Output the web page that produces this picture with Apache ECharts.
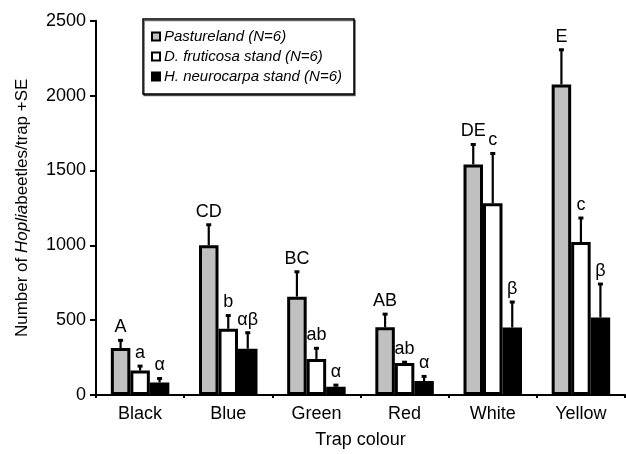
<!DOCTYPE html>
<html>
<head>
<meta charset="utf-8">
<script src="https://cdn.jsdelivr.net/npm/echarts@6/dist/echarts.min.js"></script>
<style>
html,body{margin:0;padding:0;background:#fff;}
#chart{width:626px;height:454px;}
</style>
</head>
<body>
<div id="chart"></div>
<script>
var categories = ['Black', 'Blue', 'Green', 'Red', 'White', 'Yellow'];
var seriesNames = ['Pastureland (N=6)', 'D. fruticosa stand (N=6)', 'H. neurocarpa stand (N=6)'];
var pasture = [314, 1000, 657, 453, 1540, 2074];
var pastureSE = [51, 137, 166, 87, 133, 232];
var pastureLetters = ['A', 'CD', 'BC', 'AB', 'DE', 'E'];
var fruticosa = [163, 442, 241, 214, 1281, 1022];
var fruticosaSE = [30, 89, 71, 5, 332, 160];
var fruticosaLetters = ['a', 'b', 'ab', 'ab', 'c', 'c'];
var neurocarpa = [84, 309, 55, 93, 451, 518];
var neurocarpaSE = [26, 107, 11, 31, 170, 223];
var neurocarpaLetters = ['α', 'αβ', 'α', 'α', 'β', 'β'];
var yTicks = [0, 500, 1000, 1500, 2000, 2500];

var FONT = 'Liberation Sans, Arial, sans-serif';
var BAR_W = 19.5;
var colors = ['#c0c0c0', '#ffffff', '#000000'];
var values = [pasture, fruticosa, neurocarpa];
var ses = [pastureSE, fruticosaSE, neurocarpaSE];
var letters = [pastureLetters, fruticosaLetters, neurocarpaLetters];

var chart = echarts.init(document.getElementById('chart'));

var series = [];
for (var k = 0; k < 3; k++) {
  series.push({
    name: seriesNames[k],
    type: 'bar',
    data: values[k],
    barWidth: BAR_W,
    barGap: '0%',
    itemStyle: { color: colors[k], borderColor: '#000', borderWidth: 3 },
    emphasis: { disabled: true },
    z: 2
  });
}
for (var k2 = 0; k2 < 3; k2++) {
  (function (k) {
    var d = [];
    for (var i = 0; i < categories.length; i++) d.push([i, values[k][i], ses[k][i]]);
    series.push({
      type: 'custom',
      name: seriesNames[k] + ' SE',
      data: d,
      z: 5,
      silent: true,
      renderItem: function (params, api) {
        var idx = api.value(0), v = api.value(1), se = api.value(2);
        var base = api.coord([idx, v]);
        var top = api.coord([idx, v + se]);
        var x = base[0] + (k - 1) * BAR_W;
        return {
          type: 'group',
          children: [
            { type: 'line', shape: { x1: x, y1: base[1], x2: x, y2: top[1] }, style: { stroke: '#000', lineWidth: 2.2 } },
            { type: 'line', shape: { x1: x - 2.5, y1: top[1], x2: x + 2.5, y2: top[1] }, style: { stroke: '#000', lineWidth: 3 } },
            { type: 'text', style: { text: letters[k][params.dataIndex], x: x, y: top[1] - 4, textAlign: 'center', textVerticalAlign: 'bottom', font: '18px ' + FONT, fill: '#000' } }
          ]
        };
      }
    });
  })(k2);
}

chart.setOption({
  animation: false,
  backgroundColor: '#fff',
  grid: { left: 96, right: 1, top: 20.7, bottom: 56.7, containLabel: false },
  legend: {
    data: seriesNames,
    orient: 'vertical',
    left: 143,
    top: 19,
    icon: 'rect',
    itemWidth: 8,
    itemHeight: 8,
    itemGap: 5,
    padding: [10, 12, 10, 8],
    backgroundColor: '#fff',
    borderColor: '#000',
    borderWidth: 1.5,
    shadowColor: 'rgba(0,0,0,0.6)',
    shadowOffsetX: 1,
    shadowOffsetY: 1.5,
    shadowBlur: 0,
    itemStyle: { borderWidth: 2, borderColor: '#000' },
    textStyle: { fontFamily: FONT, fontStyle: 'italic', fontSize: 15, color: '#000', lineHeight: 15, padding: [0, 0, 0, -1] },
    selectedMode: false
  },
  xAxis: {
    type: 'category',
    data: categories,
    name: 'Trap colour',
    nameLocation: 'middle',
    nameGap: 36,
    nameTextStyle: { fontFamily: FONT, fontSize: 18, color: '#000' },
    axisLine: { lineStyle: { color: '#000', width: 2 } },
    axisTick: { show: true, alignWithLabel: false, length: 3, lineStyle: { color: '#000', width: 2 } },
    axisLabel: { fontFamily: FONT, fontSize: 18, color: '#000', margin: 10 }
  },
  yAxis: {
    type: 'value',
    min: yTicks[0],
    max: yTicks[yTicks.length - 1],
    interval: 500,
    name: 'Number of {i|Hoplia}beetles/trap +SE',
    nameLocation: 'middle',
    nameRotate: 90,
    nameGap: 65,
    nameTextStyle: {
      fontFamily: FONT, fontSize: 17, color: '#000',
      rich: { i: { fontFamily: FONT, fontSize: 17, fontStyle: 'italic', color: '#000' } }
    },
    splitLine: { show: false },
    axisLine: { show: true, lineStyle: { color: '#000', width: 2 } },
    axisTick: { show: true, length: 6, lineStyle: { color: '#000', width: 2 } },
    axisLabel: { fontFamily: FONT, fontSize: 18, color: '#000', margin: 10, formatter: function (v) { return String(v); } }
  },
  series: series
});
</script>
</body>
</html>
